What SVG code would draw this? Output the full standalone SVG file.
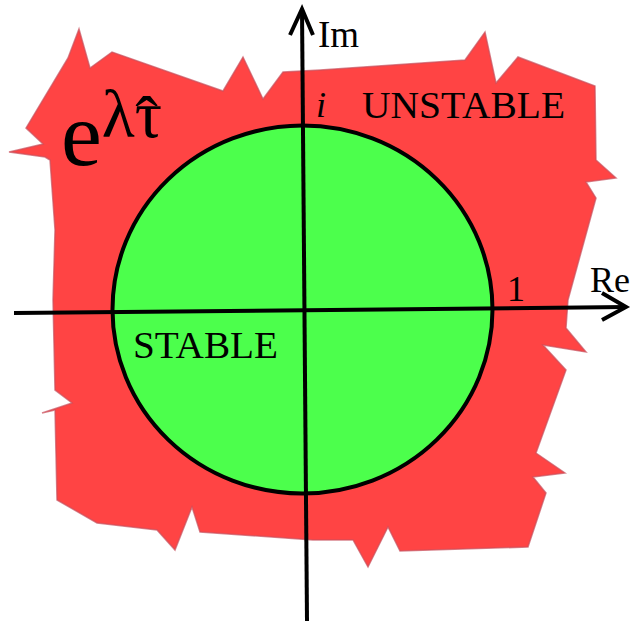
<svg xmlns="http://www.w3.org/2000/svg" width="633" height="621" viewBox="0 0 633 621">
  <style>
    text { font-family: "Liberation Serif", "DejaVu Serif", "Times New Roman", serif; fill: #000; }
    .ax { stroke: #000; stroke-width: 4; fill: none; }
  </style>
  <rect width="633" height="621" fill="#fff"/>
  <g id="unstable-region">
    <polygon fill="#ff4444" stroke="#c8505c" stroke-width="1.5" stroke-opacity="0.7"
      points="79,29 90,68 112,52 223,91 243,57 263,99 283,72 320,70 465,60 485,32 496,83 518,57 595,86 596,160 616,178 586,182 596,198 568,300 566,328 586,352 543,345 566,370 536,453 565,473 533,477 546,493 528,547 400,551 388,527 368,567 353,540 313,540 200,532 192,507 175,550 157,530 97,523 57,500 55,410 42,413 72,403 55,390 53,300 55,230 50,160 45,157 9,152 43,144 26,128 68,58"/>
  </g>
  <g id="stable-region">
    <ellipse cx="302.5" cy="309.5" rx="190" ry="184" fill="#4cff4c" stroke="#000" stroke-width="4"/>
  </g>
  <g id="axes">
    <line class="ax" x1="14" y1="313" x2="626" y2="307"/>
    <polyline class="ax" points="602,293 626,307 602,320"/>
    <line class="ax" x1="307" y1="621" x2="302" y2="9"/>
    <polyline class="ax" points="290,35 302,9 313,35"/>
  </g>
  <g id="labels" font-family="Liberation Serif, DejaVu Serif, serif">
    <text x="318" y="47" font-size="37">Im</text>
    <text x="590" y="292" font-size="36">Re</text>
    <text x="316" y="117" font-size="36" font-style="italic">i</text>
    <text x="362" y="118" font-size="38" textLength="203" lengthAdjust="spacingAndGlyphs">UNSTABLE</text>
    <text x="507" y="301" font-size="36">1</text>
    <text x="133" y="358" font-size="38" textLength="145" lengthAdjust="spacingAndGlyphs">STABLE</text>
    <text x="61" y="165" font-size="92">e<tspan font-size="68" dy="-28">λτ</tspan><tspan font-size="68" dx="-27" dy="6">ˆ</tspan></text>
  </g>
</svg>
